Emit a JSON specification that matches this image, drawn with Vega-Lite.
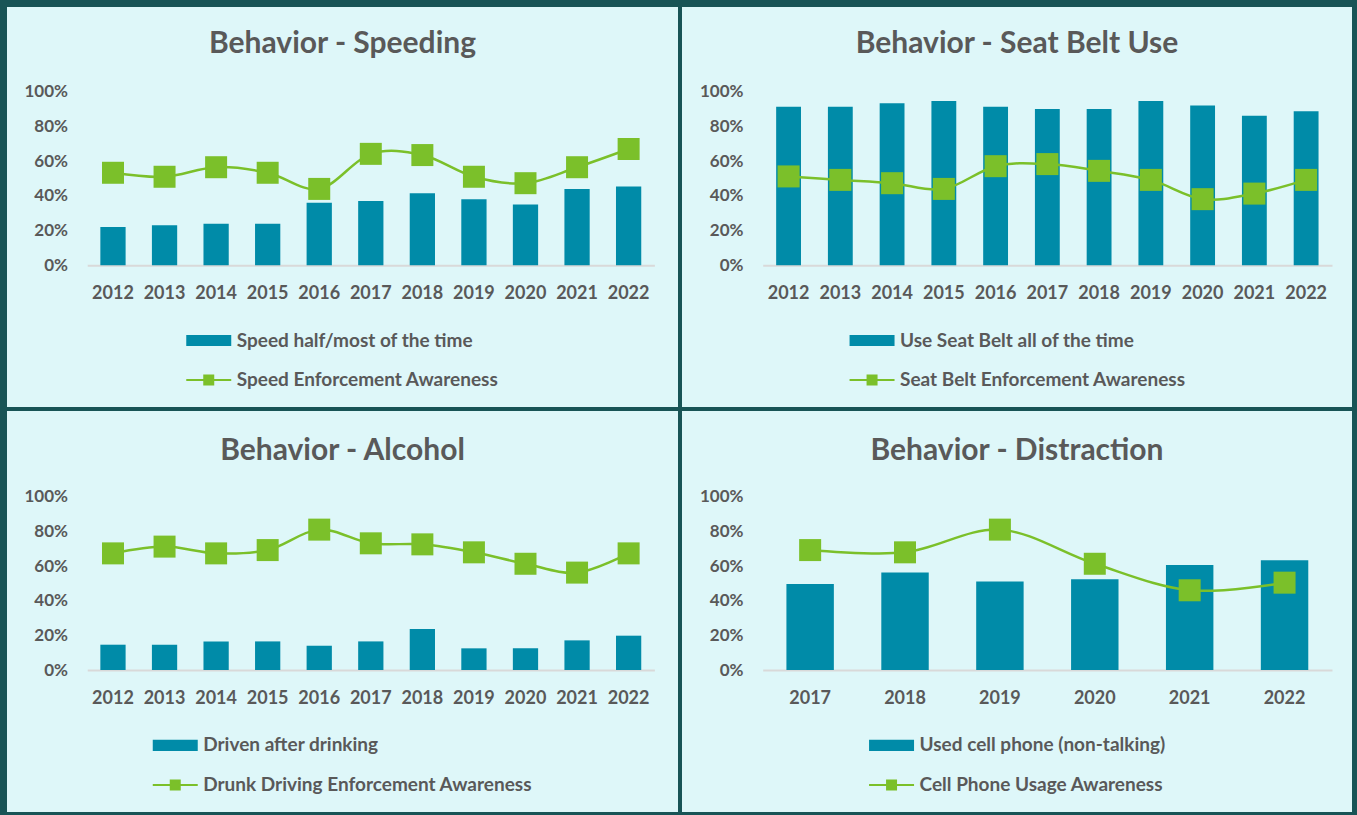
{
  "$schema": "https://vega.github.io/schema/vega-lite/v6.json",
  "background": "#185456",
  "padding": {"left": 7, "top": 7, "right": 5, "bottom": 3},
  "spacing": 4,
  "datasets": {
    "speeding": [
      {"year": "2012", "kind": "bar", "series": "Speed half/most of the time", "value": 0.22},
      {"year": "2013", "kind": "bar", "series": "Speed half/most of the time", "value": 0.23},
      {"year": "2014", "kind": "bar", "series": "Speed half/most of the time", "value": 0.24},
      {"year": "2015", "kind": "bar", "series": "Speed half/most of the time", "value": 0.24},
      {"year": "2016", "kind": "bar", "series": "Speed half/most of the time", "value": 0.36},
      {"year": "2017", "kind": "bar", "series": "Speed half/most of the time", "value": 0.37},
      {"year": "2018", "kind": "bar", "series": "Speed half/most of the time", "value": 0.415},
      {"year": "2019", "kind": "bar", "series": "Speed half/most of the time", "value": 0.38},
      {"year": "2020", "kind": "bar", "series": "Speed half/most of the time", "value": 0.35},
      {"year": "2021", "kind": "bar", "series": "Speed half/most of the time", "value": 0.44},
      {"year": "2022", "kind": "bar", "series": "Speed half/most of the time", "value": 0.454},
      {"year": "2012", "kind": "line", "series": "Speed Enforcement Awareness", "value": 0.533},
      {"year": "2013", "kind": "line", "series": "Speed Enforcement Awareness", "value": 0.51},
      {"year": "2014", "kind": "line", "series": "Speed Enforcement Awareness", "value": 0.565},
      {"year": "2015", "kind": "line", "series": "Speed Enforcement Awareness", "value": 0.533},
      {"year": "2016", "kind": "line", "series": "Speed Enforcement Awareness", "value": 0.44},
      {"year": "2017", "kind": "line", "series": "Speed Enforcement Awareness", "value": 0.642},
      {"year": "2018", "kind": "line", "series": "Speed Enforcement Awareness", "value": 0.635},
      {"year": "2019", "kind": "line", "series": "Speed Enforcement Awareness", "value": 0.51},
      {"year": "2020", "kind": "line", "series": "Speed Enforcement Awareness", "value": 0.473},
      {"year": "2021", "kind": "line", "series": "Speed Enforcement Awareness", "value": 0.565},
      {"year": "2022", "kind": "line", "series": "Speed Enforcement Awareness", "value": 0.67}
    ],
    "seatbelt": [
      {"year": "2012", "kind": "bar", "series": "Use Seat Belt all of the time", "value": 0.913},
      {"year": "2013", "kind": "bar", "series": "Use Seat Belt all of the time", "value": 0.913},
      {"year": "2014", "kind": "bar", "series": "Use Seat Belt all of the time", "value": 0.933},
      {"year": "2015", "kind": "bar", "series": "Use Seat Belt all of the time", "value": 0.946},
      {"year": "2016", "kind": "bar", "series": "Use Seat Belt all of the time", "value": 0.913},
      {"year": "2017", "kind": "bar", "series": "Use Seat Belt all of the time", "value": 0.90},
      {"year": "2018", "kind": "bar", "series": "Use Seat Belt all of the time", "value": 0.90},
      {"year": "2019", "kind": "bar", "series": "Use Seat Belt all of the time", "value": 0.946},
      {"year": "2020", "kind": "bar", "series": "Use Seat Belt all of the time", "value": 0.921},
      {"year": "2021", "kind": "bar", "series": "Use Seat Belt all of the time", "value": 0.862},
      {"year": "2022", "kind": "bar", "series": "Use Seat Belt all of the time", "value": 0.887},
      {"year": "2012", "kind": "line", "series": "Seat Belt Enforcement Awareness", "value": 0.512},
      {"year": "2013", "kind": "line", "series": "Seat Belt Enforcement Awareness", "value": 0.492},
      {"year": "2014", "kind": "line", "series": "Seat Belt Enforcement Awareness", "value": 0.473},
      {"year": "2015", "kind": "line", "series": "Seat Belt Enforcement Awareness", "value": 0.44},
      {"year": "2016", "kind": "line", "series": "Seat Belt Enforcement Awareness", "value": 0.571},
      {"year": "2017", "kind": "line", "series": "Seat Belt Enforcement Awareness", "value": 0.583},
      {"year": "2018", "kind": "line", "series": "Seat Belt Enforcement Awareness", "value": 0.544},
      {"year": "2019", "kind": "line", "series": "Seat Belt Enforcement Awareness", "value": 0.492},
      {"year": "2020", "kind": "line", "series": "Seat Belt Enforcement Awareness", "value": 0.381},
      {"year": "2021", "kind": "line", "series": "Seat Belt Enforcement Awareness", "value": 0.413},
      {"year": "2022", "kind": "line", "series": "Seat Belt Enforcement Awareness", "value": 0.492}
    ],
    "alcohol": [
      {"year": "2012", "kind": "bar", "series": "Driven after drinking", "value": 0.146},
      {"year": "2013", "kind": "bar", "series": "Driven after drinking", "value": 0.146},
      {"year": "2014", "kind": "bar", "series": "Driven after drinking", "value": 0.165},
      {"year": "2015", "kind": "bar", "series": "Driven after drinking", "value": 0.165},
      {"year": "2016", "kind": "bar", "series": "Driven after drinking", "value": 0.14},
      {"year": "2017", "kind": "bar", "series": "Driven after drinking", "value": 0.165},
      {"year": "2018", "kind": "bar", "series": "Driven after drinking", "value": 0.237},
      {"year": "2019", "kind": "bar", "series": "Driven after drinking", "value": 0.125},
      {"year": "2020", "kind": "bar", "series": "Driven after drinking", "value": 0.125},
      {"year": "2021", "kind": "bar", "series": "Driven after drinking", "value": 0.171},
      {"year": "2022", "kind": "bar", "series": "Driven after drinking", "value": 0.198},
      {"year": "2012", "kind": "line", "series": "Drunk Driving Enforcement Awareness", "value": 0.673},
      {"year": "2013", "kind": "line", "series": "Drunk Driving Enforcement Awareness", "value": 0.712},
      {"year": "2014", "kind": "line", "series": "Drunk Driving Enforcement Awareness", "value": 0.673},
      {"year": "2015", "kind": "line", "series": "Drunk Driving Enforcement Awareness", "value": 0.692},
      {"year": "2016", "kind": "line", "series": "Drunk Driving Enforcement Awareness", "value": 0.81},
      {"year": "2017", "kind": "line", "series": "Drunk Driving Enforcement Awareness", "value": 0.731},
      {"year": "2018", "kind": "line", "series": "Drunk Driving Enforcement Awareness", "value": 0.725},
      {"year": "2019", "kind": "line", "series": "Drunk Driving Enforcement Awareness", "value": 0.679},
      {"year": "2020", "kind": "line", "series": "Drunk Driving Enforcement Awareness", "value": 0.613},
      {"year": "2021", "kind": "line", "series": "Drunk Driving Enforcement Awareness", "value": 0.562},
      {"year": "2022", "kind": "line", "series": "Drunk Driving Enforcement Awareness", "value": 0.673}
    ],
    "distraction": [
      {"year": "2017", "kind": "bar", "series": "Used cell phone (non-talking)", "value": 0.496},
      {"year": "2018", "kind": "bar", "series": "Used cell phone (non-talking)", "value": 0.562},
      {"year": "2019", "kind": "bar", "series": "Used cell phone (non-talking)", "value": 0.51},
      {"year": "2020", "kind": "bar", "series": "Used cell phone (non-talking)", "value": 0.523},
      {"year": "2021", "kind": "bar", "series": "Used cell phone (non-talking)", "value": 0.606},
      {"year": "2022", "kind": "bar", "series": "Used cell phone (non-talking)", "value": 0.633},
      {"year": "2017", "kind": "line", "series": "Cell Phone Usage Awareness", "value": 0.692},
      {"year": "2018", "kind": "line", "series": "Cell Phone Usage Awareness", "value": 0.679},
      {"year": "2019", "kind": "line", "series": "Cell Phone Usage Awareness", "value": 0.81},
      {"year": "2020", "kind": "line", "series": "Cell Phone Usage Awareness", "value": 0.613},
      {"year": "2021", "kind": "line", "series": "Cell Phone Usage Awareness", "value": 0.46},
      {"year": "2022", "kind": "line", "series": "Cell Phone Usage Awareness", "value": 0.504}
    ]
  },
  "resolve": {
    "scale": {"x": "independent", "y": "independent", "color": "independent"},
    "axis": {"x": "independent", "y": "independent"},
    "legend": {"color": "independent"}
  },
  "vconcat": [
    {
      "spacing": 4,
      "resolve": {
        "scale": {"x": "independent", "y": "independent", "color": "independent"},
        "axis": {"x": "independent", "y": "independent"},
        "legend": {"color": "independent"}
      },
      "hconcat": [
        {
          "width": 671,
          "height": 400,
          "data": {"name": "speeding"},
          "title": {"text": "Behavior - Speeding", "offset": -51.6},
          "encoding": {
            "x": {"field": "year", "type": "ordinal", "scale": {"range": [80.2, 647.4], "paddingInner": 0.51, "paddingOuter": 0.255}, "axis": {"title": null, "offset": -141.7}},
            "y": {"field": "value", "type": "quantitative", "scale": {"domain": [0, 1], "range": [258.3, 84.7], "nice": false, "zero": false}, "axis": {"title": null, "values": [0, 0.2, 0.4, 0.6, 0.8, 1], "format": ".0%", "offset": -60.5}},
            "color": {
              "field": "series", "type": "nominal",
              "scale": {"domain": ["Speed half/most of the time", "Speed Enforcement Awareness"], "range": ["#008BA8", "#7BC02A"]},
              "legend": {
                "title": null, "orient": "none", "direction": "vertical", "legendX": 192.25, "legendY": 324,
                "encode": {"symbols": {"update": {
                  "shape": {"signal": "datum.value == 'Speed Enforcement Awareness' ? 'M-2,0H2M-0.4,-0.4H0.4V0.4H-0.4Z' : 'M-2,-0.5H2V0.5H-2Z'"},
                  "fill": {"signal": "datum.value == 'Speed Enforcement Awareness' ? '#7BC02A' : '#008BA8'"},
                  "stroke": {"signal": "datum.value == 'Speed Enforcement Awareness' ? '#7BC02A' : '#008BA8'"},
                  "strokeWidth": {"signal": "datum.value == 'Speed Enforcement Awareness' ? 2 : 0"},
                  "size": {"value": 506}, "opacity": {"value": 1}, "fillOpacity": {"value": 1}, "strokeOpacity": {"value": 1}
                }}}
              }
            }
          },
          "layer": [
            {"transform": [{"filter": "datum.kind == 'bar'"}], "mark": {"type": "bar"}},
            {"transform": [{"filter": "datum.kind == 'line'"}], "mark": {"type": "line", "interpolate": "cardinal", "strokeWidth": 2.5}},
            {"transform": [{"filter": "datum.kind == 'line'"}], "mark": {"type": "point", "shape": "square", "size": 484, "filled": true, "opacity": 1}}
          ]
        },
        {
          "width": 670,
          "height": 400,
          "data": {"name": "seatbelt"},
          "title": {"text": "Behavior - Seat Belt Use", "offset": -51.6},
          "encoding": {
            "x": {"field": "year", "type": "ordinal", "scale": {"range": [80.7, 650], "paddingInner": 0.52, "paddingOuter": 0.26}, "axis": {"title": null, "offset": -141.7}},
            "y": {"field": "value", "type": "quantitative", "scale": {"domain": [0, 1], "range": [258.3, 84.7], "nice": false, "zero": false}, "axis": {"title": null, "values": [0, 0.2, 0.4, 0.6, 0.8, 1], "format": ".0%", "offset": -61}},
            "color": {
              "field": "series", "type": "nominal",
              "scale": {"domain": ["Use Seat Belt all of the time", "Seat Belt Enforcement Awareness"], "range": ["#008BA8", "#7BC02A"]},
              "legend": {
                "title": null, "orient": "none", "direction": "vertical", "legendX": 180.55, "legendY": 324,
                "encode": {"symbols": {"update": {
                  "shape": {"signal": "datum.value == 'Seat Belt Enforcement Awareness' ? 'M-2,0H2M-0.4,-0.4H0.4V0.4H-0.4Z' : 'M-2,-0.5H2V0.5H-2Z'"},
                  "fill": {"signal": "datum.value == 'Seat Belt Enforcement Awareness' ? '#7BC02A' : '#008BA8'"},
                  "stroke": {"signal": "datum.value == 'Seat Belt Enforcement Awareness' ? '#7BC02A' : '#008BA8'"},
                  "strokeWidth": {"signal": "datum.value == 'Seat Belt Enforcement Awareness' ? 2 : 0"},
                  "size": {"value": 506}, "opacity": {"value": 1}, "fillOpacity": {"value": 1}, "strokeOpacity": {"value": 1}
                }}}
              }
            }
          },
          "layer": [
            {"transform": [{"filter": "datum.kind == 'bar'"}], "mark": {"type": "bar"}},
            {"transform": [{"filter": "datum.kind == 'line'"}], "mark": {"type": "line", "interpolate": "cardinal", "strokeWidth": 2.5}},
            {"transform": [{"filter": "datum.kind == 'line'"}], "mark": {"type": "point", "shape": "square", "size": 484, "filled": true, "opacity": 1}}
          ]
        }
      ]
    },
    {
      "spacing": 4,
      "resolve": {
        "scale": {"x": "independent", "y": "independent", "color": "independent"},
        "axis": {"x": "independent", "y": "independent"},
        "legend": {"color": "independent"}
      },
      "hconcat": [
        {
          "width": 671,
          "height": 401,
          "data": {"name": "alcohol"},
          "title": {"text": "Behavior - Alcohol", "offset": -54.6},
          "encoding": {
            "x": {"field": "year", "type": "ordinal", "scale": {"range": [80.2, 647.4], "paddingInner": 0.51, "paddingOuter": 0.255}, "axis": {"title": null, "offset": -142}},
            "y": {"field": "value", "type": "quantitative", "scale": {"domain": [0, 1], "range": [259, 85.7], "nice": false, "zero": false}, "axis": {"title": null, "values": [0, 0.2, 0.4, 0.6, 0.8, 1], "format": ".0%", "offset": -60.5}},
            "color": {
              "field": "series", "type": "nominal",
              "scale": {"domain": ["Driven after drinking", "Drunk Driving Enforcement Awareness"], "range": ["#008BA8", "#7BC02A"]},
              "legend": {
                "title": null, "orient": "none", "direction": "vertical", "legendX": 158.75, "legendY": 324.9,
                "encode": {"symbols": {"update": {
                  "shape": {"signal": "datum.value == 'Drunk Driving Enforcement Awareness' ? 'M-2,0H2M-0.4,-0.4H0.4V0.4H-0.4Z' : 'M-2,-0.5H2V0.5H-2Z'"},
                  "fill": {"signal": "datum.value == 'Drunk Driving Enforcement Awareness' ? '#7BC02A' : '#008BA8'"},
                  "stroke": {"signal": "datum.value == 'Drunk Driving Enforcement Awareness' ? '#7BC02A' : '#008BA8'"},
                  "strokeWidth": {"signal": "datum.value == 'Drunk Driving Enforcement Awareness' ? 2 : 0"},
                  "size": {"value": 506}, "opacity": {"value": 1}, "fillOpacity": {"value": 1}, "strokeOpacity": {"value": 1}
                }}}
              }
            }
          },
          "layer": [
            {"transform": [{"filter": "datum.kind == 'bar'"}], "mark": {"type": "bar"}},
            {"transform": [{"filter": "datum.kind == 'line'"}], "mark": {"type": "line", "interpolate": "cardinal", "strokeWidth": 2.5}},
            {"transform": [{"filter": "datum.kind == 'line'"}], "mark": {"type": "point", "shape": "square", "size": 484, "filled": true, "opacity": 1}}
          ]
        },
        {
          "width": 670,
          "height": 401,
          "data": {"name": "distraction"},
          "title": {"text": "Behavior - Distraction", "offset": -54.6},
          "encoding": {
            "x": {"field": "year", "type": "ordinal", "scale": {"range": [80.7, 650], "paddingInner": 0.5, "paddingOuter": 0.25}, "axis": {"title": null, "offset": -142}},
            "y": {"field": "value", "type": "quantitative", "scale": {"domain": [0, 1], "range": [259, 85.7], "nice": false, "zero": false}, "axis": {"title": null, "values": [0, 0.2, 0.4, 0.6, 0.8, 1], "format": ".0%", "offset": -61}},
            "color": {
              "field": "series", "type": "nominal",
              "scale": {"domain": ["Used cell phone (non-talking)", "Cell Phone Usage Awareness"], "range": ["#008BA8", "#7BC02A"]},
              "legend": {
                "title": null, "orient": "none", "direction": "vertical", "legendX": 200.05, "legendY": 324.9,
                "encode": {"symbols": {"update": {
                  "shape": {"signal": "datum.value == 'Cell Phone Usage Awareness' ? 'M-2,0H2M-0.4,-0.4H0.4V0.4H-0.4Z' : 'M-2,-0.5H2V0.5H-2Z'"},
                  "fill": {"signal": "datum.value == 'Cell Phone Usage Awareness' ? '#7BC02A' : '#008BA8'"},
                  "stroke": {"signal": "datum.value == 'Cell Phone Usage Awareness' ? '#7BC02A' : '#008BA8'"},
                  "strokeWidth": {"signal": "datum.value == 'Cell Phone Usage Awareness' ? 2 : 0"},
                  "size": {"value": 506}, "opacity": {"value": 1}, "fillOpacity": {"value": 1}, "strokeOpacity": {"value": 1}
                }}}
              }
            }
          },
          "layer": [
            {"transform": [{"filter": "datum.kind == 'bar'"}], "mark": {"type": "bar"}},
            {"transform": [{"filter": "datum.kind == 'line'"}], "mark": {"type": "line", "interpolate": "cardinal", "strokeWidth": 2.5}},
            {"transform": [{"filter": "datum.kind == 'line'"}], "mark": {"type": "point", "shape": "square", "size": 484, "filled": true, "opacity": 1}}
          ]
        }
      ]
    }
  ],
  "config": {
    "view": {"fill": "#DEF7F9", "stroke": null},
    "font": "Lato",
    "title": {"font": "Lato", "fontSize": 30, "fontWeight": "bold", "color": "#595959", "anchor": "middle", "frame": "group", "baseline": "alphabetic"},
    "axis": {"labelFont": "Lato", "labelFontWeight": "bold", "labelColor": "#595959", "grid": false, "ticks": false, "tickSize": 0},
    "axisX": {"labelAngle": 0, "domainColor": "#D9D9D9", "domainWidth": 2, "labelPadding": 19, "labelFontSize": 18},
    "axisY": {"domain": false, "labelPadding": 0, "labelFontSize": 17},
    "legend": {"padding": 0, "labelFont": "Lato", "labelFontSize": 19, "labelFontWeight": "bold", "labelColor": "#595959", "labelOffset": 18.5, "rowPadding": 19.5, "symbolSize": 506, "labelLimit": 0}
  }
}
